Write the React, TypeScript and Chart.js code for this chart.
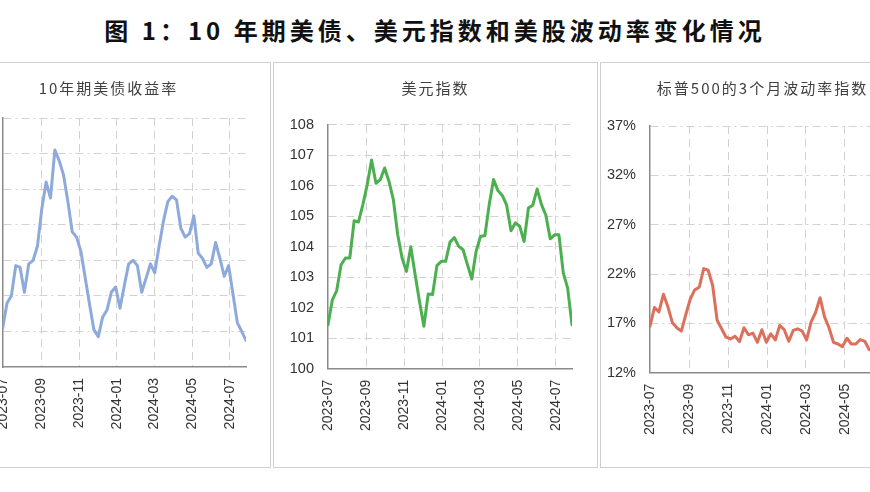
import React, { useEffect, useRef } from "react";
import { Chart, registerables } from "chart.js";

Chart.register(...registerables);

// ---------- data ----------
const weekDates = [
  "2023-07-01", "2023-07-08", "2023-07-15", "2023-07-22", "2023-07-29",
  "2023-08-05", "2023-08-12", "2023-08-19", "2023-08-26",
  "2023-09-02", "2023-09-09", "2023-09-16", "2023-09-23", "2023-09-30",
  "2023-10-07", "2023-10-14", "2023-10-21", "2023-10-28",
  "2023-11-04", "2023-11-11", "2023-11-18", "2023-11-25",
  "2023-12-02", "2023-12-09", "2023-12-16", "2023-12-23", "2023-12-30",
  "2024-01-06", "2024-01-13", "2024-01-20", "2024-01-27",
  "2024-02-03", "2024-02-10", "2024-02-17", "2024-02-24",
  "2024-03-02", "2024-03-09", "2024-03-16", "2024-03-23", "2024-03-30",
  "2024-04-06", "2024-04-13", "2024-04-20", "2024-04-27",
  "2024-05-04", "2024-05-11", "2024-05-18", "2024-05-25",
  "2024-06-01", "2024-06-08", "2024-06-15", "2024-06-22", "2024-06-29",
  "2024-07-06", "2024-07-13", "2024-07-20", "2024-07-27",
];

const yieldValues = [
  3.92, 4.06, 4.10, 4.27, 4.26, 4.12, 4.28, 4.30, 4.38, 4.59,
  4.74, 4.65, 4.92, 4.86, 4.78, 4.63, 4.46, 4.43, 4.35, 4.20,
  4.05, 3.91, 3.87, 3.98, 4.02, 4.12, 4.15, 4.03, 4.16, 4.28,
  4.30, 4.27, 4.12, 4.20, 4.28, 4.23, 4.38, 4.52, 4.63, 4.66,
  4.64, 4.48, 4.43, 4.45, 4.55, 4.34, 4.31, 4.26, 4.28, 4.40,
  4.31, 4.21, 4.27, 4.11, 3.95, 3.90, 3.85,
];

const dollarValues = [
  101.44, 102.26, 102.56, 103.41, 103.63, 103.63, 104.85, 104.81, 105.38, 106.03,
  106.84, 106.08, 106.2, 106.58, 106.14, 105.54, 104.39, 103.63, 103.19, 104.0,
  103.08, 102.2, 101.39, 102.45, 102.43, 103.38, 103.52, 103.52, 104.15, 104.3,
  104.01, 103.9, 103.41, 102.94, 103.85, 104.34, 104.36, 105.38, 106.2, 105.84,
  105.68, 105.36, 104.52, 104.78, 104.67, 104.17, 105.27, 105.36, 105.89, 105.38,
  105.03, 104.26, 104.39, 104.39, 103.14, 102.64, 101.44,
];

const volValues = [
  16.73, 18.61, 18.16, 19.95, 18.68, 17.07, 16.55, 16.21, 17.89, 19.47,
  20.39, 20.66, 22.55, 22.38, 20.84, 17.31, 16.45, 15.6, 15.42, 15.7,
  15.15, 16.55, 15.84, 16.01, 15.08, 16.35, 15.08, 15.94, 15.32, 16.79,
  16.35, 15.18, 16.28, 16.45, 16.21, 15.32, 17.14, 18.1, 19.6, 17.65,
  16.55, 15.08, 14.91, 14.64, 15.49, 14.91, 14.91, 15.36, 15.18, 14.33,
  14.4, 14.7, 14.5, 14.9, 15.3, 16.6, 17.8,
];

const monthTickLabels = ["2023-07", "2023-09", "2023-11", "2024-01", "2024-03", "2024-05", "2024-07"];
const yieldTicks = [3.7, 3.9, 4.1, 4.3, 4.5, 4.7, 4.9, 5.1];
const dollarTicks = [100, 101, 102, 103, 104, 105, 106, 107, 108];
const volTicks = [12, 17, 22, 27, 32, 37];

const mainTitle = "图 1：10 年期美债、美元指数和美股波动率变化情况";
const yieldTitle = "10年期美债收益率";
const dollarTitle = "美元指数";
const volTitle = "标普500的3个月波动率指数";

// ---------- helpers ----------
const DAY_MS = 86400000;
const ORIGIN = Date.parse(weekDates[0] + "T00:00:00Z");
const toDay = (s: string) => (Date.parse(s + "T00:00:00Z") - ORIGIN) / DAY_MS;

const W = 323;
const H = 404;

type Area = { left: number; right: number; top: number; bottom: number };

type PanelProps = {
  left: number;
  title: string;
  values: number[];
  color: string;
  yTicks: number[];
  yFormat: (v: number) => string;
  area: Area;
};

function LinePanel({ left, title, values, color, yTicks, yFormat, area }: PanelProps) {
  const ref = useRef<HTMLCanvasElement | null>(null);

  useEffect(() => {
    if (!ref.current) return;
    const tickFont = { family: "'Liberation Sans', Arial, sans-serif", size: 14.5 };
    const chart = new Chart(ref.current, {
      type: "line",
      data: {
        datasets: [
          {
            data: weekDates.map((d, i) => ({ x: toDay(d), y: values[i] })),
            borderColor: color,
            borderWidth: 3,
            pointRadius: 0,
            tension: 0,
            borderJoinStyle: "round",
            borderCapStyle: "round",
          },
        ],
      },
      options: {
        animation: false,
        responsive: true,
        maintainAspectRatio: false,
        layout: { padding: { left: 0, top: area.top, right: W - area.right, bottom: 0 } },
        plugins: {
          legend: { display: false },
          tooltip: { enabled: false },
          title: { display: false },
        },
        scales: {
          x: {
            type: "linear",
            min: toDay(weekDates[0]),
            max: toDay(weekDates[weekDates.length - 1]),
            afterBuildTicks: (s: any) => {
              s.ticks = monthTickLabels.map((m) => ({ value: toDay(m + "-01") }));
            },
            afterFit: (s: any) => {
              s.height = H - area.bottom;
            },
            ticks: {
              autoSkip: false,
              minRotation: 90,
              maxRotation: 90,
              padding: 11,
              color: "#333333",
              font: { family: "'Liberation Sans', Arial, sans-serif", size: 14 },
              callback: (_v: any, i: number) => monthTickLabels[i],
            },
            grid: {
              color: (c: any) => (c.index === 0 ? "rgba(0,0,0,0)" : "#d2d2d2"),
              lineWidth: 1,
              drawTicks: false,
            },
            border: { display: true, color: "#8a8a8a", width: 1.5, dash: [8, 5] },
          },
          y: {
            type: "linear",
            min: yTicks[0],
            max: yTicks[yTicks.length - 1],
            afterBuildTicks: (s: any) => {
              s.ticks = yTicks.map((v) => ({ value: v }));
            },
            afterFit: (s: any) => {
              s.width = area.left;
            },
            ticks: {
              padding: 14,
              color: "#333333",
              font: tickFont,
              callback: (_v: any, i: number) => yFormat(yTicks[i]),
            },
            grid: {
              color: (c: any) => (c.index === 0 ? "rgba(0,0,0,0)" : "#d2d2d2"),
              lineWidth: 1,
              drawTicks: false,
            },
            border: { display: true, color: "#8a8a8a", width: 1.5, dash: [8, 4, 2, 4] },
          },
        },
      } as any,
    });
    return () => chart.destroy();
  }, []);

  return (
    <div
      style={{
        position: "absolute",
        left,
        top: 62,
        width: 325,
        height: 406,
        boxSizing: "border-box",
        border: "1px solid #d0d0d0",
        background: "#ffffff",
      }}
    >
      <div style={{ position: "absolute", left: 0, top: 0, width: W, height: H }}>
        <canvas ref={ref} />
      </div>
      <div
        style={{
          position: "absolute",
          left: 0,
          top: 15,
          width: W,
          textAlign: "center",
          fontFamily: "'Noto Sans CJK SC', sans-serif",
          fontSize: 15,
          lineHeight: "20px",
          letterSpacing: 2,
          color: "#404040",
          whiteSpace: "nowrap",
        }}
      >
        {title}
      </div>
    </div>
  );
}

export default function App() {
  return (
    <div
      style={{
        position: "fixed",
        left: 0,
        top: 0,
        width: 870,
        height: 492,
        overflow: "hidden",
        background: "#ffffff",
      }}
    >
      <div
        style={{
          position: "absolute",
          left: 0,
          top: 15,
          width: 870,
          textAlign: "center",
          fontFamily: "'Noto Sans CJK SC', sans-serif",
          fontWeight: "bold",
          fontSize: 24,
          lineHeight: "30px",
          letterSpacing: 4,
          color: "#111111",
          whiteSpace: "nowrap",
        }}
      >
        {mainTitle}
      </div>
      <LinePanel
        left={-54}
        title={yieldTitle}
        values={yieldValues}
        color="#8eaadb"
        yTicks={yieldTicks}
        yFormat={(v) => v.toFixed(1)}
        area={{ left: 55.7, right: 299, top: 55, bottom: 304 }}
      />
      <LinePanel
        left={273}
        title={dollarTitle}
        values={dollarValues}
        color="#4caf50"
        yTicks={dollarTicks}
        yFormat={(v) => String(v)}
        area={{ left: 54, right: 298, top: 61.7, bottom: 305.7 }}
      />
      <LinePanel
        left={600}
        title={volTitle}
        values={volValues}
        color="#dd6f5d"
        yTicks={volTicks}
        yFormat={(v) => v + "%"}
        area={{ left: 49, right: 299.6, top: 63, bottom: 309.7 }}
      />
    </div>
  );
}
